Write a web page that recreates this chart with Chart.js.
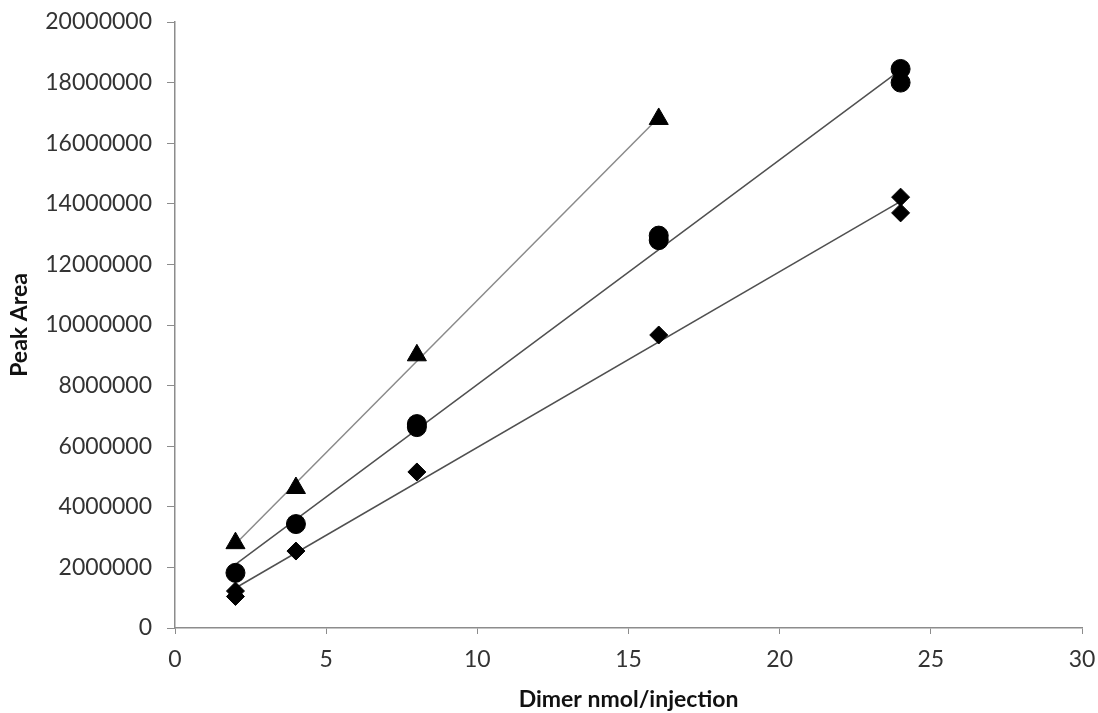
<!DOCTYPE html>
<html>
<head>
<meta charset="utf-8">
<script src="https://cdn.jsdelivr.net/npm/chart.js@4"></script>
<style>
  html, body { margin: 0; padding: 0; background: #fff; }
  #wrap { width: 1098px; height: 713px; }
</style>
</head>
<body>
<div id="wrap"><canvas id="peakChart" width="1098" height="713"></canvas></div>
<script>
// values
const xTicks = [0, 5, 10, 15, 20, 25, 30];
const yTicks = [0, 2000000, 4000000, 6000000, 8000000, 10000000, 12000000, 14000000, 16000000, 18000000, 20000000];

const triangleX = [2, 4, 8, 16];
const triangleY = [2800000, 4620000, 9000000, 16800000];

const circleX = [2, 4, 8, 8, 16, 16, 24, 24];
const circleY = [1820000, 3430000, 6730000, 6630000, 12800000, 12950000, 18450000, 18000000];

const diamondX = [2, 2, 4, 8, 16, 24, 24];
const diamondY = [1220000, 1040000, 2540000, 5150000, 9670000, 14220000, 13700000];

// trendline end points
const triangleFitX = [2, 16];
const triangleFitY = [2770000, 16850000];
const circleFitX = [2, 24];
const circleFitY = [2100000, 18420000];
const diamondFitX = [2, 24];
const diamondFitY = [1320000, 14080000];

const pts = (xs, ys) => xs.map((x, i) => ({ x: x, y: ys[i] }));

const FONT = 'Lato, "Open Sans", sans-serif';
const AXIS_GREY = '#8c8c8c';

const markerSet = (data, style, r) => ({
  type: 'scatter',
  data: data,
  pointStyle: style,
  pointRadius: r,
  pointHoverRadius: r,
  backgroundColor: '#000',
  borderColor: '#000',
  borderWidth: 1,
  order: 0
});

const fitSet = (data, color) => ({
  type: 'line',
  data: data,
  borderColor: color,
  borderWidth: 1.5,
  pointRadius: 0,
  fill: false,
  tension: 0,
  order: 1
});

new Chart(document.getElementById('peakChart').getContext('2d'), {
  type: 'scatter',
  data: {
    datasets: [
      markerSet(pts(triangleX, triangleY), 'triangle', 11),
      markerSet(pts(circleX, circleY), 'circle', 9.5),
      markerSet(pts(diamondX, diamondY), 'rectRot', 9),
      fitSet(pts(triangleFitX, triangleFitY), '#8a8a8a'),
      fitSet(pts(circleFitX, circleFitY), '#505050'),
      fitSet(pts(diamondFitX, diamondFitY), '#505050')
    ]
  },
  options: {
    responsive: false,
    animation: false,
    layout: { padding: { top: 22, right: 16, bottom: 0, left: 0 } },
    plugins: {
      legend: { display: false },
      tooltip: { enabled: false }
    },
    scales: {
      x: {
        type: 'linear',
        min: 0,
        max: 30,
        afterBuildTicks: s => { s.ticks = xTicks.map(v => ({ value: v })); },
        afterFit: s => { s.height = 85; s.paddingLeft = 0; s.paddingRight = 0; },
        grid: { drawOnChartArea: false, drawTicks: true, tickLength: 6, color: AXIS_GREY },
        border: { display: true, color: AXIS_GREY, width: 1.5 },
        ticks: { color: '#333', padding: 12, font: { family: FONT, size: 23 }, maxRotation: 0 },
        title: {
          display: true,
          text: 'Dimer nmol/injection',
          color: '#111',
          padding: { top: 0, bottom: 0 },
          font: { family: FONT, size: 23, weight: 'bold' }
        }
      },
      y: {
        type: 'linear',
        min: 0,
        max: 20000000,
        afterBuildTicks: s => { s.ticks = yTicks.map(v => ({ value: v })); },
        afterFit: s => { s.width = 175; s.paddingTop = 0; s.paddingBottom = 0; },
        grid: { drawOnChartArea: false, drawTicks: true, tickLength: 8, color: AXIS_GREY },
        border: { display: true, color: AXIS_GREY, width: 1.5 },
        ticks: {
          color: '#333',
          padding: 15,
          font: { family: FONT, size: 23 },
          callback: v => String(v)
        },
        title: {
          display: true,
          text: 'Peak Area',
          color: '#111',
          padding: { top: 6, bottom: 0 },
          font: { family: FONT, size: 23, weight: 'bold' }
        }
      }
    }
  }
});
</script>
</body>
</html>
